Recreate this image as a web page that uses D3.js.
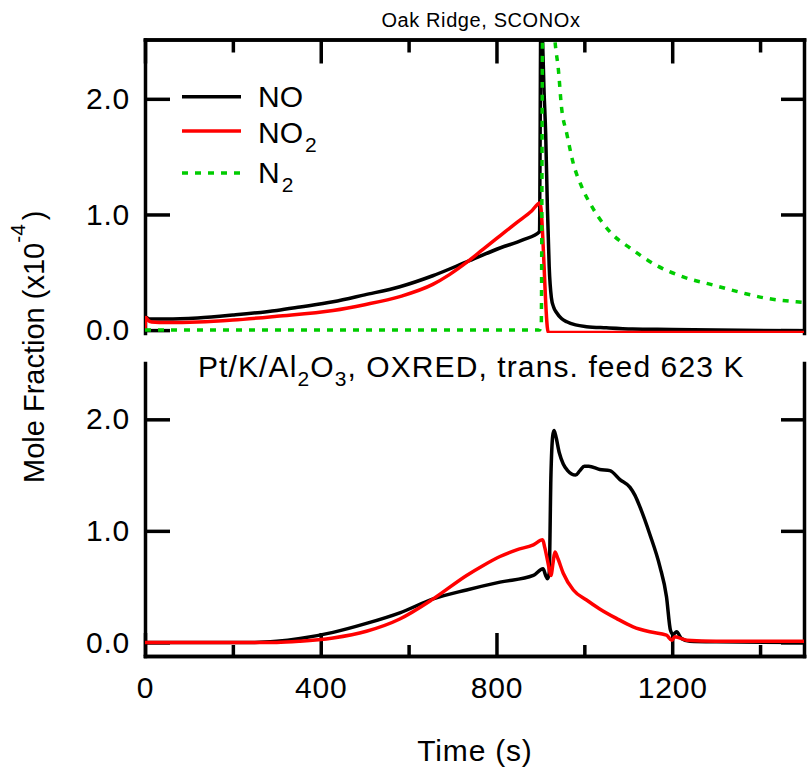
<!DOCTYPE html>
<html>
<head>
<meta charset="utf-8">
<script src="https://cdn.jsdelivr.net/npm/d3@7"></script>
<style>
  body { margin: 0; background: #fff; }
  svg { display: block; }
  text { font-family: "Liberation Sans", Arial, sans-serif; fill: #000; }
  .axis path, .axis line { stroke: #000; stroke-width: 3.5; }
  .axis path { stroke-linecap: square; }
  .line { fill: none; stroke-linejoin: round; }
</style>
</head>
<body>
<svg class="canvas" width="807" height="772"></svg>
<script>
// time ticks (s)
var xMajor = [0, 400, 800, 1200];
var xMinor = [200, 600, 1000, 1400];
var yTicks = [0, 1, 2];

// Oak Ridge, SCONOx  [time s, mole fraction x1e-4]
var topNO = [[0, 0.10], [3, 0.11], [10, 0.095], [50, 0.095], [120, 0.105], [200, 0.13], [300, 0.17],
  [353, 0.2], [428, 0.245], [500, 0.305], [580, 0.375], [655, 0.47], [732, 0.59], [808, 0.71],
  [860, 0.78], [898, 0.85], [901, 2.7], [905, 2.5], [908, 2.1], [912, 1.7], [916, 1.05], [920, 0.55],
  [925, 0.28], [930, 0.2], [937, 0.15], [948, 0.1], [960, 0.072], [980, 0.045], [1005, 0.03],
  [1050, 0.02], [1110, 0.01], [1200, 0.006], [1300, 0.0], [1500, -0.005]];
var topNO2 = [[0, 0.0], [2, 0.11], [6, 0.09], [15, 0.07], [50, 0.065], [120, 0.07], [200, 0.087],
  [300, 0.12], [428, 0.17], [500, 0.22], [580, 0.29], [655, 0.395], [693, 0.48], [732, 0.585],
  [770, 0.7], [808, 0.815], [846, 0.93], [880, 1.03], [899, 1.1], [918, -0.02], [1500, -0.02]];
var topN2 = [[0, 0.0], [898, 0.0], [902, 0.05], [905, 2.6], [915, 3.3], [925, 3.0], [933, 2.51],
  [941, 2.25], [948, 1.93], [960, 1.7], [975, 1.44], [994, 1.24], [1020, 1.05], [1066, 0.82],
  [1104, 0.71], [1164, 0.56], [1225, 0.46], [1293, 0.39], [1362, 0.32], [1415, 0.275],
  [1483, 0.245], [1500, 0.24]];

// Pt/K/Al2O3, OXRED, trans. feed 623 K
var botNO = [[0, 0], [250, 0.0], [300, 0.01], [353, 0.035], [428, 0.09], [504, 0.17], [580, 0.265],
  [656, 0.39], [732, 0.47], [808, 0.54], [884, 0.6], [906, 0.66], [912, 0.6], [916, 0.57],
  [920, 0.62], [924, 1.5], [928, 1.85], [931, 1.9], [935, 1.85], [943, 1.7], [952, 1.6],
  [962, 1.54], [971, 1.51], [980, 1.5], [990, 1.54], [1000, 1.58], [1010, 1.58], [1035, 1.55],
  [1058, 1.54], [1081, 1.46], [1104, 1.39], [1115, 1.32], [1127, 1.21], [1149, 0.97],
  [1172, 0.68], [1187, 0.41], [1196, 0.11], [1202, 0.07], [1210, 0.095], [1221, 0.035],
  [1240, 0.01], [1300, 0.005], [1500, 0.0]];
var botNO2 = [[0, 0], [300, 0.0], [353, 0.01], [428, 0.04], [504, 0.1], [580, 0.21], [656, 0.39],
  [732, 0.6], [770, 0.69], [808, 0.77], [846, 0.83], [884, 0.875], [905, 0.92], [910, 0.85],
  [918, 0.7], [924, 0.6], [929, 0.72], [933, 0.81], [940, 0.75], [952, 0.62], [975, 0.47],
  [1005, 0.38], [1035, 0.3], [1073, 0.215], [1111, 0.14], [1149, 0.095], [1187, 0.065],
  [1199, 0.02], [1206, 0.05], [1233, 0.02], [1300, 0.01], [1500, 0.01]];

var svg = d3.select('.canvas');
var x = d3.scaleLinear().domain([0, 1500]).range([145, 804]);
var yTop = d3.scaleLinear().domain([-0.025, 2.513]).range([333, 39.5]);
var yBot = d3.scaleLinear().domain([-0.122, 2.505]).range([656, 363]);

function clip(id, y) {
  svg.append('clipPath').attr('id', id).append('rect')
    .attr('x', x(0)).attr('y', y.range()[1])
    .attr('width', x(1500) - x(0)).attr('height', y.range()[0] - y.range()[1]);
}
clip('clipTop', yTop);
clip('clipBot', yBot);

function drawLine(data, y, clipId, color, width, dash) {
  var line = d3.line().x(function(d){ return x(d[0]); }).y(function(d){ return y(d[1]); })
    .curve(d3.curveMonotoneX);
  svg.append('path').datum(data)
    .classed('line', true)
    .attr('clip-path', 'url(#' + clipId + ')')
    .attr('stroke', color)
    .attr('stroke-width', width)
    .attr('stroke-dasharray', dash || null)
    .attr('d', line);
}

function noLabels() { return ''; }

// top panel axes
svg.append('g').classed('axis', true).attr('transform', 'translate(' + x(0) + ',0)')
  .call(d3.axisLeft(yTop).tickValues(yTicks).tickSize(-25).tickSizeOuter(0).tickPadding(15)
    .tickFormat(d3.format('.1f')));
svg.append('g').classed('axis', true).attr('transform', 'translate(' + x(1500) + ',0)')
  .call(d3.axisRight(yTop).tickValues(yTicks).tickSize(-23).tickSizeOuter(0).tickFormat(noLabels));
svg.append('g').classed('axis', true).attr('transform', 'translate(0,' + yTop.range()[1] + ')')
  .call(d3.axisTop(x).tickValues(xMajor).tickSize(-24).tickSizeOuter(0).tickFormat(noLabels));
svg.append('g').classed('axis', true).attr('transform', 'translate(0,' + yTop.range()[1] + ')')
  .call(d3.axisTop(x).tickValues(xMinor).tickSize(-13).tickSizeOuter(0).tickFormat(noLabels));

// bottom panel axes
svg.append('g').classed('axis', true).attr('transform', 'translate(' + x(0) + ',0)')
  .call(d3.axisLeft(yBot).tickValues(yTicks).tickSize(-25).tickSizeOuter(0).tickPadding(15)
    .tickFormat(d3.format('.1f')));
svg.append('g').classed('axis', true).attr('transform', 'translate(' + x(1500) + ',0)')
  .call(d3.axisRight(yBot).tickValues(yTicks).tickSize(-23).tickSizeOuter(0).tickFormat(noLabels));
svg.append('g').classed('axis', true).attr('transform', 'translate(0,' + yBot.range()[0] + ')')
  .call(d3.axisBottom(x).tickValues(xMajor).tickSize(-23).tickSizeOuter(0).tickPadding(21)
    .tickFormat(d3.format('d')));
svg.append('g').classed('axis', true).attr('transform', 'translate(0,' + yBot.range()[0] + ')')
  .call(d3.axisBottom(x).tickValues(xMinor).tickSize(-11).tickSizeOuter(0).tickFormat(noLabels));

svg.selectAll('.axis text').style('font-size', '30px').style('letter-spacing', '0.8px');

// data
drawLine(topNO, yTop, 'clipTop', '#000', 3.5);
drawLine(topNO2, yTop, 'clipTop', '#ff0000', 3.5);
drawLine(topN2, yTop, 'clipTop', '#00cc00', 3.5, '6,7');
drawLine(botNO, yBot, 'clipBot', '#000', 3.5);
drawLine(botNO2, yBot, 'clipBot', '#ff0000', 3.5);

// legend
var legend = [
  {name: 'NO', sub: '', color: '#000', width: 3.5, dash: null, y: 96.7, base: 107},
  {name: 'NO', sub: '2', color: '#ff0000', width: 3.5, dash: null, y: 131, base: 142.5},
  {name: 'N', sub: '2', color: '#00cc00', width: 3.5, dash: '6,7', y: 173, base: 183}
];
legend.forEach(function(l){
  svg.append('line')
    .attr('x1', 182).attr('x2', 241).attr('y1', l.y).attr('y2', l.y)
    .attr('stroke', l.color).attr('stroke-width', l.width)
    .attr('stroke-dasharray', l.dash);
  var t = svg.append('text').attr('x', 258).attr('y', l.base).style('font-size', '30px');
  t.append('tspan').text(l.name);
  if (l.sub) t.append('tspan').attr('dx', 2).attr('dy', 9).style('font-size', '21px').text(l.sub);
});

// titles
svg.append('text').attr('x', 481).attr('y', 26.5).attr('text-anchor', 'middle')
  .style('font-size', '20px').style('letter-spacing', '0.6px').text('Oak Ridge, SCONOx');

var bt = svg.append('text').attr('x', 198).attr('y', 377)
  .style('font-size', '30px').style('letter-spacing', '1.1px');
bt.append('tspan').text('Pt/K/Al');
bt.append('tspan').attr('dy', 9).style('font-size', '21px').text('2');
bt.append('tspan').attr('dy', -9).text('O');
bt.append('tspan').attr('dy', 9).style('font-size', '21px').text('3');
bt.append('tspan').attr('dy', -9).text(', OXRED, trans. feed 623 K');

svg.append('text').attr('x', 475).attr('y', 761).attr('text-anchor', 'middle')
  .style('font-size', '30px').style('letter-spacing', '0.8px').text('Time (s)');

var yt = svg.append('text').attr('transform', 'translate(44,483) rotate(-90)')
  .style('font-size', '29px');
yt.append('tspan').text('Mole Fraction (x10');
yt.append('tspan').attr('dy', -19).style('font-size', '21px').text('-4');
yt.append('tspan').attr('dy', 19).attr('dx', 4).text(')');
</script>
</body>
</html>
